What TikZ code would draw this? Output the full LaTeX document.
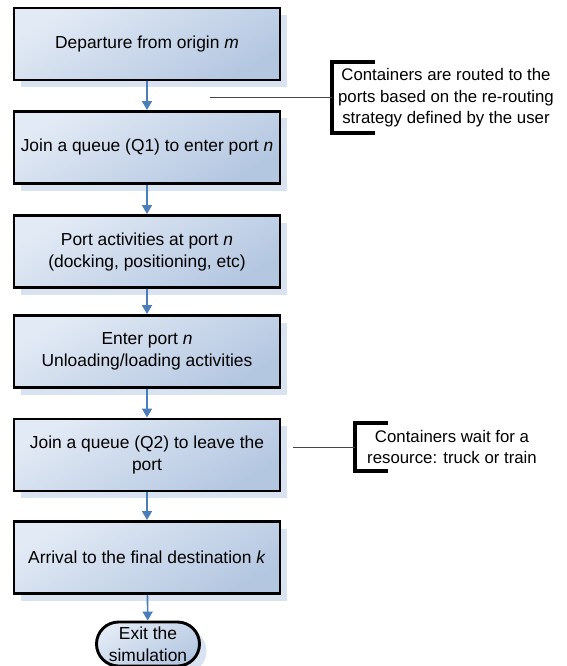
\documentclass[tikz,border=0pt]{standalone}
\usepackage{fontspec}
\setmainfont{Liberation Sans}
\usetikzlibrary{arrows.meta, shadows}

\definecolor{boxtop}{RGB}{226,234,245}
\definecolor{boxbot}{RGB}{180,199,225}
\definecolor{shadowblue}{RGB}{217,226,240}
\definecolor{flowblue}{RGB}{74,126,187}
\definecolor{notegray}{RGB}{70,70,70}

\begin{document}
\begin{tikzpicture}[x=1pt, y=-1pt,
    stage/.style={draw=black, line width=2.9pt, top color=boxtop, bottom color=boxbot,
        shading angle=30, minimum width=266pt, minimum height=72pt, inner sep=0pt,
        align=center, font=\fontsize{17.4}{22}\selectfont,
        drop shadow={shadow xshift=7pt, shadow yshift=-7pt, fill=shadowblue, opacity=1}},
    stop/.style={stage, minimum width=103pt, minimum height=44pt, rounded corners=22pt},
    flow/.style={-{Triangle[width=10pt,length=9pt]}, flowblue, line width=1.6pt},
    note/.style={align=center, font=\fontsize{16.8}{21.5}\selectfont, inner sep=0pt},
    bracket/.style={line width=3.2pt, black},
    lead/.style={notegray, line width=1pt}]
    \useasboundingbox (0,0) rectangle (566,666);

    % Stages of the trip
    \node[stage] (depart) at (147,44) {Departure from origin \textit{m}};
    \node[stage] (queue1) at (147,147.5) {Join a queue (Q1) to enter port \textit{n}};
    \node[stage] (portact) at (147,251.5) {Port activities at port \textit{n}\\(docking, positioning, etc)};
    \node[stage] (enter) at (147,351.5) {Enter port \textit{n}\\Unloading/loading activities};
    \node[stage] (queue2) at (147,455) {Join a queue (Q2) to leave the\\port};
    \node[stage] (arrive) at (147,557.5) {Arrival to the final destination \textit{k}};
    \node[stop] (exit) at (148,644) {Exit the\\simulation};

    % Flow arrows
    \draw[flow] (depart) -- (queue1);
    \draw[flow] (queue1) -- (portact);
    \draw[flow] (portact) -- (enter);
    \draw[flow] (enter) -- (queue2);
    \draw[flow] (queue2) -- (arrive);
    \draw[flow] (arrive) -- (exit);

    % Note on re-routing
    \node[note] (reroute) at (446,98) {Containers are routed to the\\ports based on the re-routing\\strategy defined by the user};
    \draw[bracket] (375,62) -- (332,62) -- (332,133) -- (375,133);
    \coordinate (reroutetip) at (210,98);
    \coordinate (reroutebar) at (332,98);
    \draw[lead] (reroutetip) -- (reroutebar);

    % Note on waiting
    \node[note] (wait) at (452,447) {Containers wait for a\\resource: truck or train};
    \draw[bracket] (388,423) -- (355,423) -- (355,471) -- (388,471);
    \coordinate (waittip) at (293,447);
    \coordinate (waitbar) at (355,447);
    \draw[lead] (waittip) -- (waitbar);
\end{tikzpicture}
\end{document}
